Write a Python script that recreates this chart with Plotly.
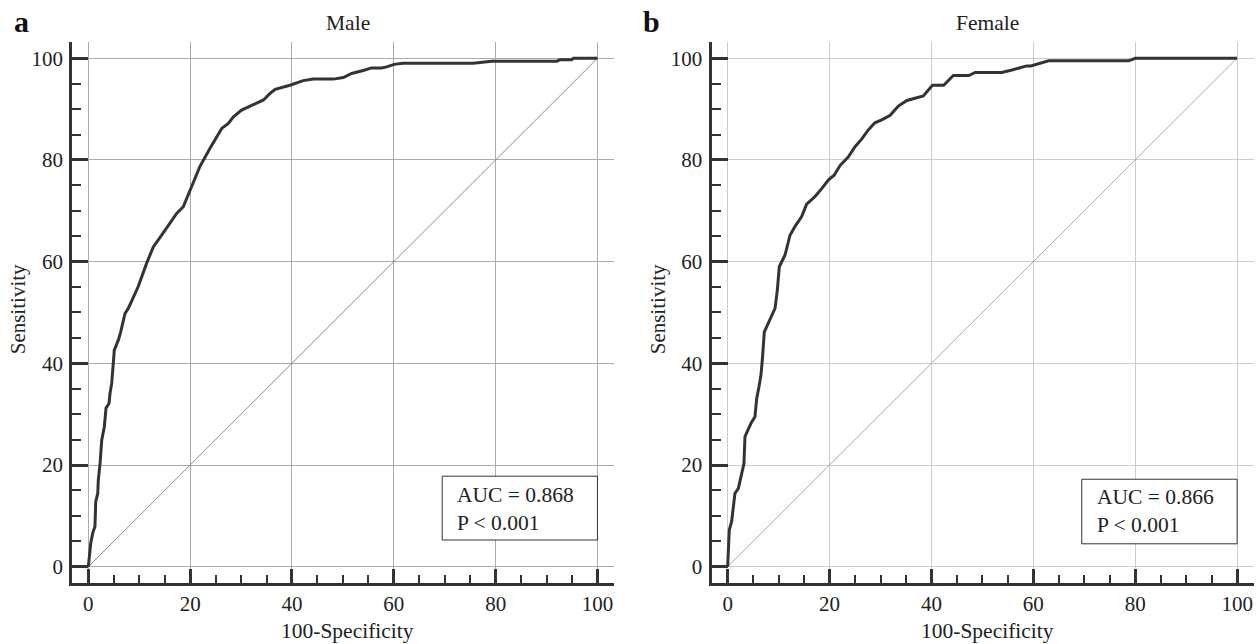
import plotly.graph_objects as go

# ---- data ----
male_fpr = [0, 0.3, 0.47, 0.86, 1.3, 1.45, 1.85, 1.96, 2.3, 2.63, 3.14, 3.47, 4.06, 4.26, 4.59, 5.1, 5.9, 6.36,
            7.2, 7.85, 8.83, 9.8, 11.46, 12.76, 14.4, 15.7, 17.35, 18.65, 20.3, 21.9, 23.9, 25.2, 26.2, 27.5,
            28.5, 30.1, 32.4, 34.4, 35.7, 36.7, 39.6, 42.2, 44.2, 48.1, 50.1, 51.7, 54.0, 55.6, 57.6, 58.6,
            60.1, 61.8, 75.6, 79.2, 92.0, 92.6, 94.9, 95.3, 100]
male_tpr = [0, 2.5, 4.6, 6.6, 7.9, 12.8, 14.4, 17.1, 20.3, 24.9, 27.5, 31.2, 32.1, 34.1, 36.1, 42.6, 44.6, 46.2,
            49.8, 50.8, 52.8, 55.1, 59.7, 62.9, 65.2, 67.2, 69.5, 70.8, 74.7, 78.7, 82.3, 84.6, 86.2, 87.2,
            88.5, 89.8, 90.8, 91.8, 93.1, 93.9, 94.7, 95.6, 95.9, 95.9, 96.2, 97.0, 97.6, 98.1, 98.1, 98.3,
            98.8, 99.0, 99.0, 99.4, 99.4, 99.7, 99.7, 100, 100]

female_fpr = [0, 0.1, 0.32, 0.78, 1.43, 2.1, 2.6, 3.2, 3.4, 4.05, 4.58, 5.36, 5.7, 6.15, 6.54, 6.8, 7.2, 7.98,
              8.64, 9.3, 9.75, 10.14, 11.26, 12.24, 13.2, 14.5, 15.5, 17.15, 18.5, 19.8, 20.9, 22.06, 23.7,
              25.0, 26.3, 27.6, 28.9, 30.25, 31.9, 33.5, 35.2, 36.8, 38.4, 40.2, 42.4, 44.3, 47.3, 48.6, 53.8,
              55.8, 57.4, 58.7, 59.5, 61.4, 63.0, 78.7, 80.0, 100]
female_tpr = [0, 3.0, 7.2, 8.9, 14.4, 15.4, 17.7, 20.3, 25.6, 27.2, 28.2, 29.5, 33.1, 35.4, 37.7, 40.7, 46.2,
              47.9, 49.2, 50.8, 54.4, 59.0, 61.3, 65.2, 66.9, 68.8, 71.3, 72.8, 74.4, 76.1, 77.0, 78.9, 80.6,
              82.6, 84.1, 85.9, 87.3, 87.9, 88.8, 90.6, 91.7, 92.1, 92.6, 94.7, 94.7, 96.6, 96.6, 97.2, 97.2,
              97.7, 98.2, 98.5, 98.5, 99.0, 99.5, 99.5, 100, 100]

diag = [0, 100]
tick_vals = [0, 20, 40, 60, 80, 100]
tick_text = ["0", "20", "40", "60", "80", "100"]

panel_titles = ["Male", "Female"]
panel_letters = ["a", "b"]
auc_values = ["0.868", "0.866"]
p_text = "P &lt; 0.001"
x_title = "100-Specificity"
y_title = "Sensitivity"

W, H = 1257, 644
FONT = "Liberation Serif"
AX = "#333333"
TXT = "#222222"


def px(xp):
    return xp / W


def py(yp):
    return 1 - yp / H


fig = go.Figure()

panels = [
    dict(fpr=male_fpr, tpr=male_tpr, xa="x", ya="y", grid="#ababab", diag="#8a8a8a"),
    dict(fpr=female_fpr, tpr=female_tpr, xa="x2", ya="y2", grid="#cdcdcd", diag="#aaaaaa"),
]
for p in panels:
    fig.add_trace(go.Scatter(x=diag, y=diag, mode="lines", xaxis=p["xa"], yaxis=p["ya"],
                             line=dict(color=p["diag"], width=1), showlegend=False, hoverinfo="skip"))
    fig.add_trace(go.Scatter(x=p["fpr"], y=p["tpr"], mode="lines", xaxis=p["xa"], yaxis=p["ya"],
                             line=dict(color="#333333", width=3), showlegend=False))

xr = [-3.17, 103.25]
yr = [-3.17, 103.26]
ydom = [py(582.8), py(41.7)]
xdoms = [[px(72.2), px(614)], [px(711.5), px(1253.7)]]


def xaxis(dom, anchor, grid):
    return dict(domain=dom, anchor=anchor, range=xr, showgrid=True, gridcolor=grid, gridwidth=1,
                zeroline=False, showline=True, linecolor=AX, linewidth=3,
                tickmode="array", tickvals=tick_vals, ticktext=tick_text,
                ticks="inside", ticklen=14, tickwidth=3, tickcolor=AX,
                minor=dict(dtick=5, tick0=0, ticks="inside", ticklen=8, tickwidth=2, tickcolor=AX, showgrid=False),
                tickfont=dict(family=FONT, size=21, color=TXT))


def yaxis(anchor, grid):
    return dict(domain=ydom, anchor=anchor, range=yr, showgrid=True, gridcolor=grid, gridwidth=1,
                zeroline=False, showline=True, linecolor=AX, linewidth=3,
                tickmode="array", tickvals=tick_vals, ticktext=tick_text,
                ticks="inside", ticklen=16, tickwidth=3, tickcolor=AX, ticklabelstandoff=2,
                minor=dict(dtick=5, tick0=0, ticks="inside", ticklen=9, tickwidth=2, tickcolor=AX, showgrid=False),
                tickfont=dict(family=FONT, size=21, color=TXT))


fig.update_layout(
    width=W, height=H, margin=dict(l=0, r=0, t=0, b=0),
    paper_bgcolor="white", plot_bgcolor="white",
    font=dict(family=FONT, size=21, color=TXT),
    xaxis=xaxis(xdoms[0], "y", panels[0]["grid"]),
    yaxis=yaxis("x", panels[0]["grid"]),
    xaxis2=xaxis(xdoms[1], "y2", panels[1]["grid"]),
    yaxis2=yaxis("x2", panels[1]["grid"]),
)

title_cx = [347.5, 987.0]
ytitle_cx = [18.3, 658.3]
letter_x = [12, 641]
box_y = [(5.25, 17.8), (4.5, 17.2)]
text_y = [11.3, 10.9]

for i, p in enumerate(panels):
    fig.add_annotation(text=panel_titles[i], x=px(title_cx[i]), y=py(22.7), xref="paper", yref="paper",
                       showarrow=False, xanchor="center", yanchor="middle",
                       font=dict(family=FONT, size=21.5, color=TXT))
    fig.add_annotation(text="<b>" + panel_letters[i] + "</b>", x=px(letter_x[i]), y=py(21),
                       xref="paper", yref="paper", showarrow=False, xanchor="left", yanchor="middle",
                       font=dict(family=FONT, size=30, color="#111111"))
    fig.add_annotation(text=x_title, x=px(title_cx[i]), y=py(631), xref="paper", yref="paper",
                       showarrow=False, xanchor="center", yanchor="middle",
                       font=dict(family=FONT, size=21.5, color=TXT))
    fig.add_annotation(text=y_title, x=px(ytitle_cx[i]), y=py(309), xref="paper", yref="paper",
                       showarrow=False, xanchor="center", yanchor="middle", textangle=-90,
                       font=dict(family=FONT, size=21, color=TXT))
    fig.add_shape(type="rect", xref=p["xa"], yref=p["ya"], x0=69.5, x1=100, y0=box_y[i][0], y1=box_y[i][1],
                  line=dict(color="#333333", width=1), fillcolor="white", layer="above")
    fig.add_annotation(text="AUC = " + auc_values[i] + "<br>" + p_text, x=72.1, y=text_y[i],
                       xref=p["xa"], yref=p["ya"], showarrow=False, xanchor="left", yanchor="middle",
                       align="left", font=dict(family=FONT, size=21.5, color=TXT))

fig.write_html("out.html", config={"displayModeBar": False},
               post_script="document.body.style.margin='0';document.body.style.overflow='hidden';")
